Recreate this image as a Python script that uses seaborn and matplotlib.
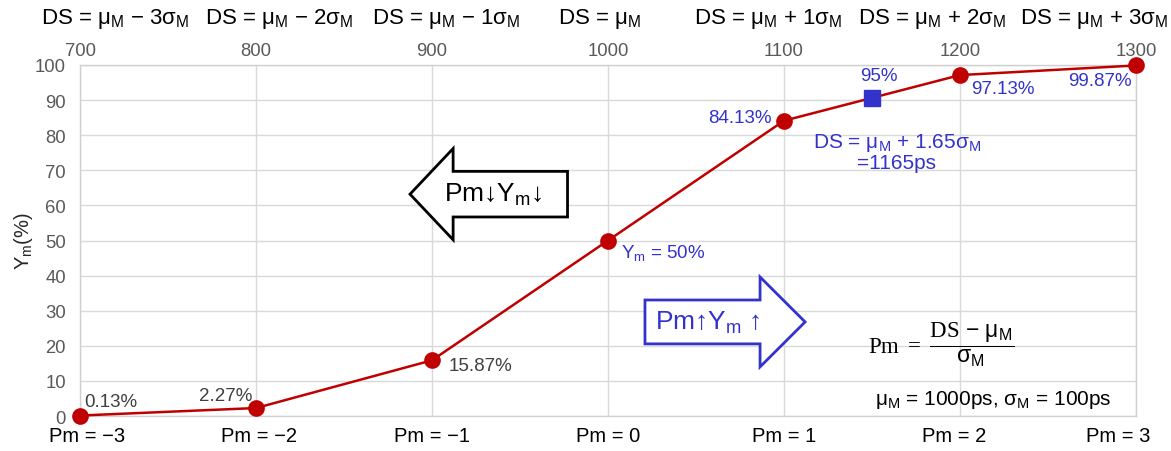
import matplotlib
matplotlib.use("Agg")
import matplotlib.pyplot as plt
import matplotlib.transforms as mtransforms
import seaborn as sns
from matplotlib.patches import FancyArrow

# data
ds_ps = [700, 800, 900, 1000, 1100, 1200, 1300]
yield_pct = [0.13, 2.27, 15.87, 50, 84.13, 97.13, 99.87]
pm_labels = ["Pm = \u22123", "Pm = \u22122", "Pm = \u22121", "Pm = 0",
             "Pm = 1", "Pm = 2", "Pm = 3"]
ds_labels = [
    "DS = \u03bc$_\\mathsf{M}$ \u2212 3\u03c3$_\\mathsf{M}$",
    "DS = \u03bc$_\\mathsf{M}$ \u2212 2\u03c3$_\\mathsf{M}$",
    "DS = \u03bc$_\\mathsf{M}$ \u2212 1\u03c3$_\\mathsf{M}$",
    "DS = \u03bc$_\\mathsf{M}$",
    "DS = \u03bc$_\\mathsf{M}$ + 1\u03c3$_\\mathsf{M}$",
    "DS = \u03bc$_\\mathsf{M}$ + 2\u03c3$_\\mathsf{M}$",
    "DS = \u03bc$_\\mathsf{M}$ + 3\u03c3$_\\mathsf{M}$",
]
ds_label_x = [720, 813, 908, 995, 1091, 1184, 1276]
pm_label_shift = [5, 2, 0, 0, 0, -4, -13]  # points, labels pulled inward
point_labels = ["0.13%", "2.27%", "15.87%", "Y$_\\mathsf{m}$ = 50%",
                "84.13%", "97.13%", "99.87%"]
label_offsets = [(22, 10), (-22, 9), (35, -4), (40, -8), (-32, 2), (31, -10), (-26, -11)]
label_colors = ["#404040", "#404040", "#404040", "#3333cc", "#3333cc", "#3333cc", "#3333cc"]
target_ds, target_y = 1150, 90.6

RED = "#c00000"
BLUE = "#3333cc"
GRAY = "#595959"

sns.set_theme(style="whitegrid")
plt.rcParams["font.family"] = ["Liberation Sans", "DejaVu Sans"]
plt.rcParams["mathtext.fontset"] = "custom"
plt.rcParams["mathtext.rm"] = "Liberation Serif"
plt.rcParams["mathtext.sf"] = "Liberation Sans"
plt.rcParams["mathtext.it"] = "Liberation Sans:italic"

fig, ax = plt.subplots(figsize=(11.71, 4.52), dpi=100)
fig.subplots_adjust(left=80 / 1171, right=1136 / 1171, bottom=35 / 452, top=386 / 452)

sns.lineplot(x=ds_ps, y=yield_pct, ax=ax, color=RED, linewidth=1.8,
             marker="o", markersize=12, markeredgewidth=0, zorder=3, clip_on=False)
ax.plot([target_ds], [target_y], marker="s", markersize=11, color=BLUE,
        linestyle="none", zorder=4)

ax.set_xlim(700, 1300)
ax.set_ylim(0, 100)
ax.set_yticks(range(0, 101, 10))
ax.set_xticks(ds_ps)
ax.grid(True, color="#d9d9d9", linewidth=1)
for s in ax.spines.values():
    s.set_color("#d0d0d0")
    s.set_linewidth(1)

ax.xaxis.tick_top()
ax.tick_params(axis="x", which="both", top=False, bottom=False, labeltop=True,
               labelbottom=False, labelcolor=GRAY, pad=-2)
ax.tick_params(axis="y", left=False, labelcolor=GRAY, pad=4)
for lab in ax.get_xticklabels() + ax.get_yticklabels():
    lab.set_fontsize(13.3)
ax.set_xlabel("")
ax.set_ylabel("Y$_\\mathsf{m}$(%)", fontsize=14.5, labelpad=0)

sec = ax.secondary_xaxis("bottom")
sec.set_xticks(ds_ps, labels=pm_labels)
sec.tick_params(length=0, labelsize=14.5, labelcolor="black", pad=7)
for s in sec.spines.values():
    s.set_visible(False)
for lab, dx in zip(sec.get_xticklabels(), pm_label_shift):
    lab.set_transform(lab.get_transform() +
                      mtransforms.ScaledTranslation(dx / 72, 0, fig.dpi_scale_trans))

for x, lab in zip(ds_label_x, ds_labels):
    ax.text(x, 1.135, lab, transform=ax.get_xaxis_transform(), ha="center",
            va="center", fontsize=16, color="black", clip_on=False)

for x, y, lab, off, c in zip(ds_ps, yield_pct, point_labels, label_offsets, label_colors):
    ax.annotate(lab, (x, y), xytext=off, textcoords="offset points",
                ha="center", va="center", fontsize=13.5, color=c)

ax.annotate("95%", (target_ds, target_y), xytext=(5, 16), textcoords="offset points",
            ha="center", va="center", fontsize=13.5, color=BLUE)
ax.text(1164, 75.4, "DS = \u03bc$_\\mathsf{M}$ + 1.65\u03c3$_\\mathsf{M}$\n=1165ps",
        ha="center", va="center", fontsize=15, color=BLUE, linespacing=1.0)

# direction arrows
ax.add_patch(FancyArrow(977, 63.2, -89.5, 0, width=13, head_width=26, head_length=24.5,
                        length_includes_head=True, facecolor="white", edgecolor="black",
                        linewidth=2, zorder=5))
ax.text(934.7, 63.2, "Pm\u2193Y$_\\mathsf{m}$\u2193", ha="center", va="center",
        fontsize=19, color="black", zorder=6)
ax.add_patch(FancyArrow(1021, 26.8, 91, 0, width=12.5, head_width=25.6, head_length=25.6,
                        length_includes_head=True, facecolor="white", edgecolor=BLUE,
                        linewidth=2, zorder=5))
ax.text(1057, 26.8, "Pm\u2191Y$_\\mathsf{m}$ \u2191", ha="center", va="center",
        fontsize=19, color=BLUE, zorder=6)

# formula and parameters
ax.text(1147.5, 20.5,
        "$\\mathrm{Pm}\\;=\\;\\dfrac{\\mathrm{DS}\\ \\mathsf{\u2212\\ \u03bc_M}}{\\mathsf{\u03c3_M}}$",
        ha="left", va="center", fontsize=16.5, color="black")
ax.text(1151.5, 4.8, "\u03bc$_\\mathsf{M}$ = 1000ps, \u03c3$_\\mathsf{M}$ = 100ps",
        ha="left", va="center", fontsize=15, color="black")

fig.savefig("out.png", dpi=100)
